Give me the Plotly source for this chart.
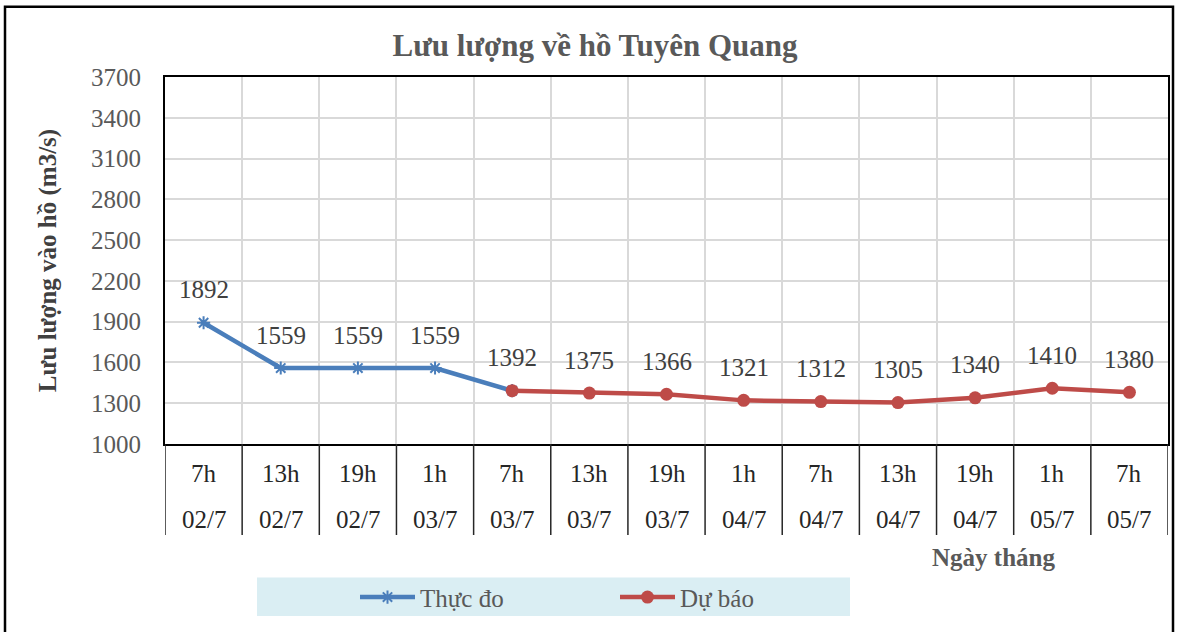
import plotly.graph_objects as go

hours = ["7h", "13h", "19h", "1h", "7h", "13h", "19h", "1h", "7h", "13h", "19h", "1h", "7h"]
dates = ["02/7", "02/7", "02/7", "03/7", "03/7", "03/7", "03/7", "04/7", "04/7", "04/7", "04/7", "05/7", "05/7"]
thuc_do = [1892, 1559, 1559, 1559, 1392, None, None, None, None, None, None, None, None]
du_bao = [None, None, None, None, 1392, 1375, 1366, 1321, 1312, 1305, 1340, 1410, 1380]

FONT = "Liberation Serif"
W, H = 1182, 632
L, R, T, B = 165, 1168, 77, 448
pw, ph = R - L, B - T
def px(x): return (x - L) / pw
def py(y): return (B - y) / ph

n = len(hours)
xs = list(range(n))

fig = go.Figure()
fig.add_trace(go.Scatter(
    x=[x for x, v in zip(xs, thuc_do) if v is not None],
    y=[v for v in thuc_do if v is not None],
    mode="lines+markers", name="Thực đo",
    line=dict(color="#4A7EBB", width=4.5),
    marker=dict(symbol="asterisk-open", size=11, color="#4A7EBB", line=dict(color="#4A7EBB", width=2)),
))
fig.add_trace(go.Scatter(
    x=[x for x, v in zip(xs, du_bao) if v is not None],
    y=[v for v in du_bao if v is not None],
    mode="lines+markers", name="Dự báo",
    line=dict(color="#BE4B48", width=4.5),
    marker=dict(symbol="circle", size=13, color="#BE4B48"),
))

annotations = []
for i in xs:
    v = thuc_do[i] if thuc_do[i] is not None else du_bao[i]
    annotations.append(dict(x=i, y=v, text=str(v), showarrow=False, yshift=33, yanchor="middle",
                            font=dict(family=FONT, size=25, color="#404040")))
for i in xs:
    annotations.append(dict(x=i, y=py(478), yref="paper", yanchor="middle", text=hours[i], showarrow=False,
                            font=dict(family=FONT, size=25, color="#262626")))
    annotations.append(dict(x=i, y=py(524), yref="paper", yanchor="middle", text=dates[i], showarrow=False,
                            font=dict(family=FONT, size=25, color="#262626")))
annotations.append(dict(x=px(1057), y=py(563), xref="paper", yref="paper", yanchor="middle",
                        text="<b>Ngày tháng</b>", showarrow=False,
                        font=dict(family=FONT, size=25, color="#595959")))

shapes = []
for k in range(n + 1):
    shapes.append(dict(type="line", xref="x", yref="paper", x0=k - 0.5, x1=k - 0.5,
                       y0=0, y1=py(540), line=dict(color="#262626", width=1.5)))
shapes.append(dict(type="rect", xref="paper", yref="paper", x0=px(257), x1=px(850),
                   y0=py(583), y1=py(622), fillcolor="#DAEEF3", line=dict(width=0), layer="below"))
shapes.append(dict(type="rect", xref="paper", yref="paper", x0=px(5), x1=px(1173),
                   y0=py(650), y1=py(6), line=dict(color="#000000", width=2.5)))

fig.update_layout(
    width=W, height=H,
    margin=dict(l=L, r=W - R, t=T, b=H - B),
    paper_bgcolor="white", plot_bgcolor="white",
    title=dict(text="<b>Lưu lượng về hồ Tuyên Quang</b>", xref="container", x=595 / W, xanchor="center",
               yref="container", y=1 - 45 / H, yanchor="middle",
               font=dict(family=FONT, size=31, color="#595959")),
    xaxis=dict(range=[-0.5, n - 0.5], tickvals=[k - 0.5 for k in range(n + 1)], ticktext=[""] * (n + 1),
               showgrid=True, gridcolor="#D9D9D9", gridwidth=2, zeroline=False,
               showline=True, mirror=True, linecolor="#000000", linewidth=2, ticks=""),
    yaxis=dict(range=[1000, 3700], dtick=300, tick0=1000, showgrid=True, gridcolor="#D9D9D9", gridwidth=2,
               zeroline=False, showline=True, mirror=True, linecolor="#000000", linewidth=2,
               tickfont=dict(family=FONT, size=25, color="#595959"), ticks="", ticklabelstandoff=17,
               title=dict(text="<b>Lưu lượng vào hồ (m3/s)</b>", standoff=27,
                          font=dict(family=FONT, size=25, color="#404040"))),
    legend=dict(orientation="h", x=px(355), y=py(603), xanchor="left", yanchor="middle",
                bgcolor="rgba(0,0,0,0)", entrywidth=190, entrywidthmode="pixels",
                font=dict(family=FONT, size=25, color="#595959"), itemwidth=55),
    showlegend=True,
    annotations=annotations,
    shapes=shapes,
)

fig.write_html(
    "out.html",
    config={"displayModeBar": False},
    post_script=(
        "document.body.style.margin='0px';"
        "document.body.style.overflow='hidden';"
        "document.documentElement.style.overflow='hidden';"
    ),
)
